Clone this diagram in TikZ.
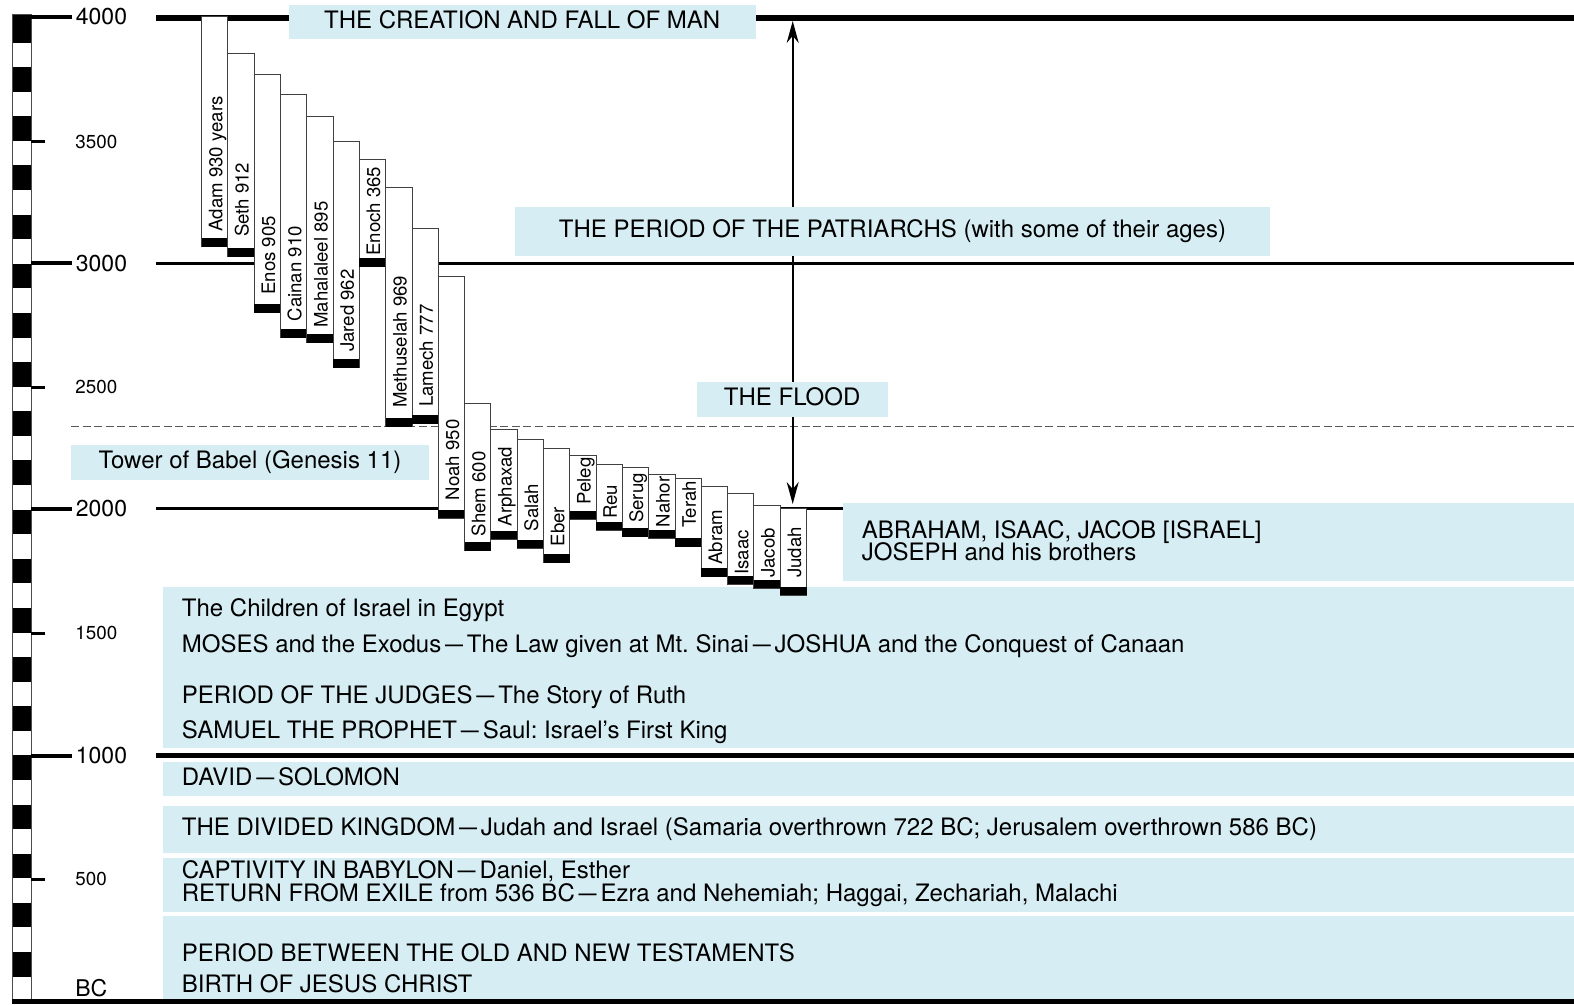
\documentclass[tikz,border=0pt]{standalone}
\usepackage{fontspec}
\setmainfont{TeX Gyre Heros}
\usetikzlibrary{arrows.meta}
\definecolor{bandblue}{RGB}{214,237,243}
\newcommand{\bdash}{\kern.16em\scalebox{0.75}[1]{—}\kern.16em}
\frenchspacing
\tikzset{
  band/.style={fill=bandblue},
  bandtext/.style={anchor=base west, inner sep=0pt, font=\fontsize{12}{14}\selectfont},
  bandmid/.style={inner sep=0pt, text height=8.6pt, text depth=2.4pt, font=\fontsize{12}{14}\selectfont},
  yearbig/.style={anchor=west, inner sep=0pt, font=\fontsize{11.5}{13}\selectfont},
  yearsmall/.style={anchor=west, inner sep=0pt, font=\fontsize{9.4}{11}\selectfont},
  lifebar/.style={fill=white, draw=black!75, line width=0.5pt},
  lifename/.style={rotate=90, anchor=base west, inner sep=0pt, font=\fontsize{9.3}{11}\selectfont},
  >={Stealth[length=11pt, width=6pt]}
}

\begin{document}
\begin{tikzpicture}[x=0.5pt, y=-0.5pt]
	\useasboundingbox (0,0) rectangle (1574,1005);
	
	\fill (12,15) rectangle (31,18);
	\foreach \k in {0,...,19}
		\fill (12,{18+49.16*\k}) rectangle (31,{42.58+49.16*\k});
	\draw[black!70, line width=0.5pt] (12,15) rectangle (31,1001);
	
	\foreach \y/\yr in {17/4000, 263.5/3000, 508.5/2000, 755.5/1000} {
		\draw[line width=2pt] (31,\y) -- (72,\y);
		\node[yearbig] (y\yr) at (75.5,\y) {\yr};
	}
	\foreach \y/\yr in {141.5/3500, 387.3/2500, 633/1500, 879/500} {
		\draw[line width=1.5pt] (31,\y) -- (45,\y);
		\node[yearsmall] (y\yr) at (75,\y) {\yr};
	}
	\node[yearbig, anchor=base west] (bc) at (75,996.5) {BC};
	
	\draw[line width=2.85pt] (156,17.9) -- (1574,17.9);
	\draw[line width=1.8pt] (156,263.5) -- (1574,263.5);
	\draw[line width=1.6pt] (156,508.5) -- (845,508.5);
	\draw[line width=2.1pt] (156,755.5) -- (1574,755.5);
	\draw[line width=2.4pt] (12,1001.5) -- (1574,1001.5);
	\draw[black!65, line width=0.6pt, dash pattern=on 4pt off 1.8pt] (71,426.7) -- (1574,426.7);
	
	\coordinate (fall) at (792.7,21);
	\coordinate (judahtop) at (792.7,504);
	\draw[<->, line width=0.8pt] (judahtop) -- (fall);
	
	\fill[band] (288.7,5) rectangle (755.7,39.3) node[pos=.5, bandmid] (creation) {THE CREATION AND FALL OF MAN};
	\fill[band] (515,207) rectangle (1270,256) node[pos=.5, bandmid] (patriarchs) {THE PERIOD OF THE PATRIARCHS (with some of their ages)};
	\fill[band] (696.6,382.3) rectangle (887.7,417.3) node[pos=.5, bandmid] (flood) {THE FLOOD};
	\fill[band] (71,445) rectangle (429,480) node[pos=.5, bandmid] (babel) {Tower of Babel (Genesis 11)};
	
	\fill[band] (842.7,503.3) rectangle (1574,580.7);
	\node[bandtext] (abraham) at (861.5,538.5) {ABRAHAM, ISAAC, JACOB [ISRAEL]};
	\node[bandtext] (joseph) at (861.5,560.5) {JOSEPH and his brothers};
	
	\fill[band] (162.7,587.3) rectangle (1574,748.3);
	\node[bandtext] (egypt) at (181.5,616) {The Children of Israel in Egypt};
	\node[bandtext] (moses) at (181.5,652.3) {MOSES and the Exodus\bdash The Law given at Mt. Sinai\bdash JOSHUA and the Conquest of Canaan};
	\node[bandtext] (judges) at (181.5,703.3) {PERIOD OF THE JUDGES\bdash The Story of Ruth};
	\node[bandtext] (samuel) at (181.5,738.3) {SAMUEL THE PROPHET\bdash Saul: Israel’s First King};
	
	\fill[band] (162.7,761.7) rectangle (1574,795.7);
	\node[bandtext] (david) at (181.5,785) {DAVID\bdash SOLOMON};
	
	\fill[band] (162.7,805.7) rectangle (1574,852.7);
	\node[bandtext] (divided) at (181.5,835.7) {THE DIVIDED KINGDOM\bdash Judah and Israel (Samaria overthrown 722 BC; Jerusalem overthrown 586 BC)};
	
	\fill[band] (162.7,858.3) rectangle (1574,911.7);
	\node[bandtext] (captivity) at (181.5,878.3) {CAPTIVITY IN BABYLON\bdash Daniel, Esther};
	\node[bandtext] (exile) at (181.5,901.7) {RETURN FROM EXILE from 536 BC\bdash Ezra and Nehemiah; Haggai, Zechariah, Malachi};
	
	\fill[band] (162.7,916) rectangle (1574,1001);
	\node[bandtext] (between) at (181.5,961.7) {PERIOD BETWEEN THE OLD AND NEW TESTAMENTS};
	\node[bandtext] (birth) at (181.5,992.7) {BIRTH OF JESUS CHRIST};
	\draw[line width=2.4pt] (156,1001.5) -- (1574,1001.5);
	
	\foreach \top/\bot/\txt/\who [count=\i from 0] in {
		17/247/231.7/Adam 930 years,
		53.3/257/237.3/Seth 912,
		74.3/313/295/Enos 905,
		94.7/338/321.7/Cainan 910,
		116.7/343/328/Mahalaleel 895,
		141.7/368/352.3/Jared 962,
		160/266.7/256/Enoch 365,
		187.7/426.7/408.3/Methuselah 969,
		228.3/424/407.3/Lamech 777,
		276.7/518.3/500.7/Noah 950,
		404/550.7/536.7/Shem 600,
		430/539.3/526.7/Arphaxad,
		439.3/548.3/531.7/Salah,
		448.3/562.7/546.7/Eber,
		455.7/519.3/505/Peleg,
		464.3/530/519.3/Reu,
		467.7/536.7/523.3/Serug,
		474.3/538.3/527.7/Nahor,
		478.3/546.7/528.3/Terah,
		486/576.7/565/Abram,
		493.3/584/575/Isaac,
		505.7/588.3/578.3/Jacob,
		508.3/595/578.3/Judah} {
		\pgfmathsetmacro\xl{201.6+26.3*\i}
		\pgfmathsetmacro\xr{\xl+26.3}
		\draw[lifebar] (\xl,\top) rectangle (\xr,\bot);
		\fill (\xl,\bot-8.5) rectangle (\xr,\bot);
		\node[lifename] (life\i) at (\xr-5.5,\txt) {\who};
	}
	
\end{tikzpicture}
\end{document}
